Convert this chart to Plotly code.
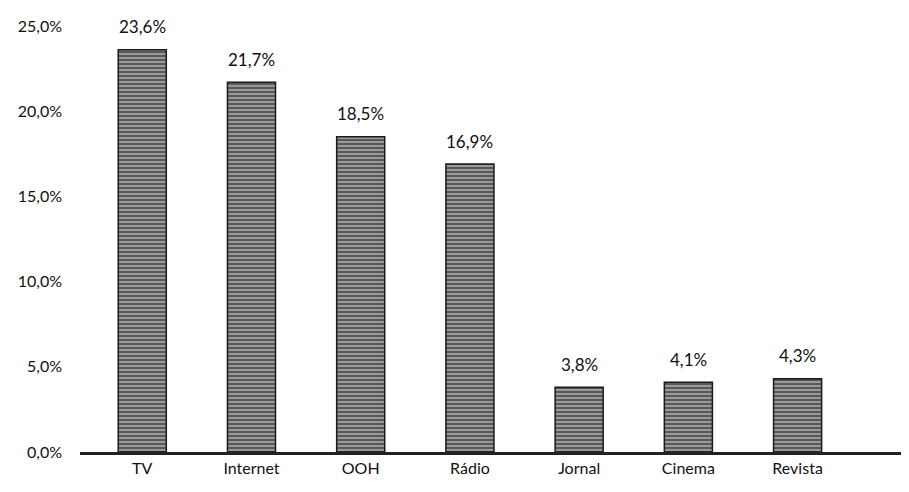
import plotly.graph_objects as go

# Data
media = ["TV", "Internet", "OOH", "Rádio", "Jornal", "Cinema", "Revista"]
share = [23.6, 21.7, 18.5, 16.9, 3.8, 4.1, 4.3]
y_ticks = [0, 5, 10, 15, 20, 25]

labels = [f"{v:.1f}%".replace(".", ",") for v in share]
y_tick_text = [f"{v:.1f}%".replace(".", ",") for v in y_ticks]

fig = go.Figure()

fig.add_trace(
    go.Bar(
        x=media,
        y=share,
        marker=dict(
            color="#6e6e6e",
            line=dict(color="#1a1a1a", width=1.5),
            pattern=dict(shape="-", fgcolor="#111111", bgcolor="#a0a0a0",
                         size=4, solidity=0.55),
        ),
        hoverinfo="skip",
    )
)

# Value labels sit a bit above each bar
for m, v, t in zip(media, share, labels):
    fig.add_annotation(x=m, y=v, text=t, showarrow=False, yshift=23,
                       font=dict(size=17, color="#111111"))

# the page body adds an 8px offset, margins compensate for it
fig.update_layout(
    width=909,
    height=492,
    margin=dict(l=72, r=8, t=12, b=48),
    plot_bgcolor="white",
    paper_bgcolor="white",
    bargap=0.56,
    showlegend=False,
    font=dict(family="Lato, Open Sans, sans-serif", size=17, color="#111111"),
    xaxis=dict(
        range=[-0.57, 7.02],
        showline=True,
        linecolor="#222222",
        linewidth=3,
        ticks="",
        showgrid=False,
        tickfont=dict(size=16),
    ),
    yaxis=dict(
        range=[0, 25],
        tickvals=y_ticks,
        ticktext=y_tick_text,
        showgrid=False,
        zeroline=False,
        showline=False,
        ticks="",
        ticklabelstandoff=17,
        tickfont=dict(size=16),
    ),
)

fig.write_html("out.html")
